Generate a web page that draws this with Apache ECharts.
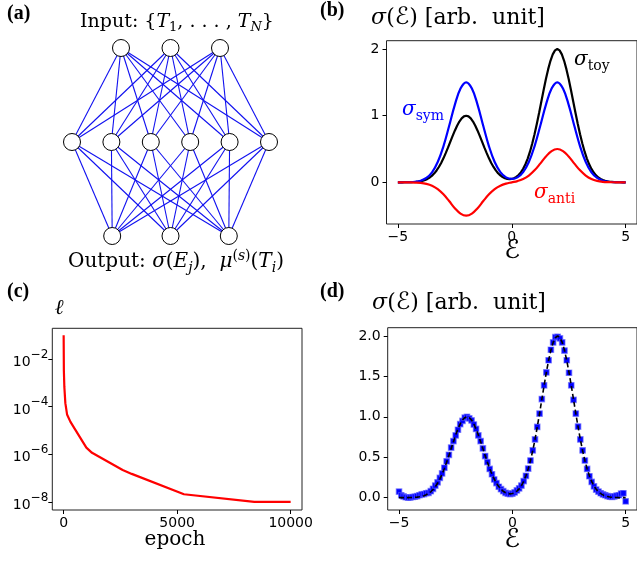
<!DOCTYPE html>
<html><head><meta charset="utf-8">
<script src="https://cdn.jsdelivr.net/npm/echarts@6/dist/echarts.min.js"></script>
<style>html,body{margin:0;padding:0;background:#fff}#c{width:637px;height:561px}</style>
</head><body><div id="c"></div><script>
// ---------------- data ----------------
// (a) network: node slots per layer (input, hidden, output) and layer levels
const inputSlots = [-1, 0, 1];
const hiddenSlots = [-2.5, -1.5, -0.5, 0.5, 1.5, 2.5];
const outputSlots = [-1, 0, 1];
const layerLevels = [0, 1, 2];

// energy grids
const eFineStart = -5, eFineStep = 0.1, eFineCount = 101;
const eCoarseStart = -5, eCoarseStep = 0.25, eCoarseCount = 41;

// (b)/(d) sigma_toy on fine grid
const sigmaToy = [
  0.000,0.000,0.000,0.001,0.001,0.002,0.003,0.005,0.007,0.011,
  0.017,0.025,0.037,0.052,0.073,0.101,0.135,0.178,0.230,0.291,
  0.360,0.438,0.520,0.607,0.693,0.775,0.849,0.912,0.960,0.990,
  1.000,0.990,0.960,0.912,0.849,0.775,0.693,0.607,0.520,0.438,
  0.360,0.291,0.231,0.179,0.137,0.104,0.079,0.061,0.051,0.047,
  0.051,0.061,0.081,0.109,0.150,0.203,0.271,0.357,0.460,0.582,
  0.720,0.876,1.040,1.214,1.386,1.550,1.698,1.824,1.920,1.980,
  2.000,1.980,1.920,1.824,1.698,1.550,1.386,1.214,1.040,0.876,
  0.720,0.582,0.460,0.356,0.270,0.201,0.147,0.105,0.073,0.050,
  0.034,0.022,0.014,0.009,0.006,0.003,0.002,0.001,0.001,0.000,
  0.000];
// (b) symmetric / antisymmetric parts on coarse grid
const sigmaSym = [0.000,0.001,0.003,0.009,0.025,0.066,0.151,0.305,0.540,0.845,1.163,1.407,1.500,1.407,1.163,0.845,0.540,0.305,0.154,0.074,0.051,
  0.074,0.154,0.305,0.540,0.845,1.163,1.407,1.500,1.407,1.163,0.845,0.540,0.305,0.151,0.066,0.025,0.009,0.003,0.001,0.000];
const sigmaAnti = [0.000,0.000,-0.001,-0.003,-0.008,-0.022,-0.050,-0.101,-0.180,-0.281,-0.388,-0.469,-0.500,-0.469,-0.388,-0.281,-0.180,-0.101,-0.050,-0.019,0.000,
  0.019,0.050,0.101,0.180,0.281,0.388,0.469,0.500,0.469,0.388,0.281,0.180,0.101,0.050,0.022,0.008,0.003,0.001,0.000,0.000];

// (c) loss curve
const epochs = [0, 10, 30, 75, 150, 300, 1000, 1250, 2600, 3000, 5300, 8400, 10000];
const loss = [1e-1, 3.2e-3, 6.9e-4, 1.4e-4, 4.7e-5, 2.3e-5, 1.9e-6, 1.15e-6, 2.2e-7, 1.5e-7, 2.1e-8, 1.0e-8, 1.0e-8];

// (d) reconstructed sigma on fine grid
const sigmaRecon = [
  0.075,0.03,0.015,0.005,0.0,0.002,0.008,0.012,0.02,0.03,
  0.04,0.045,0.055,0.06,0.08,0.11,0.15,0.19,0.245,0.30,
  0.37,0.45,0.53,0.62,0.70,0.77,0.84,0.91,0.95,0.99,
  1.0,0.98,0.955,0.905,0.85,0.77,0.70,0.61,0.515,0.44,
  0.355,0.29,0.225,0.18,0.135,0.105,0.08,0.06,0.05,0.045,
  0.05,0.065,0.09,0.115,0.15,0.205,0.27,0.36,0.46,0.585,
  0.72,0.875,1.04,1.22,1.39,1.55,1.70,1.83,1.92,1.985,
  1.99,1.97,1.92,1.82,1.70,1.545,1.39,1.21,1.04,0.88,
  0.72,0.585,0.46,0.355,0.265,0.195,0.14,0.10,0.075,0.055,
  0.04,0.03,0.02,0.012,0.01,0.015,0.025,0.03,0.05,0.055,
  -0.045];

// tick labels
const eTicks = [-5, 0, 5];
const bTicks = [0, 1, 2];
const epochTicks = [0, 5000, 10000];
const lossDecadeTicks = [-8, -6, -4, -2];
const dTicks = [0, 0.5, 1, 1.5, 2];

// ---------------- build ----------------
const eFine = Array.from({length: eFineCount}, (_, i) => +(eFineStart + i * eFineStep).toFixed(2));
const eCoarse = Array.from({length: eCoarseCount}, (_, i) => +(eCoarseStart + i * eCoarseStep).toFixed(2));
const zip = (xs, ys) => xs.map((x, i) => [x, ys[i]]);

const layerSpacing = [49.5, 39.4, 58.3];   // px between nodes in each layer
const layers = [inputSlots, hiddenSlots, outputSlots];
const nodePts = [];
layers.forEach((sl, li) => sl.forEach(s => nodePts.push([s * layerSpacing[li], layerLevels[li]])));
const edges = [];
for (let li = 0; li < 2; li++) {
  layers[li].forEach(a => layers[li + 1].forEach(b => {
    edges.push({coords: [[a * layerSpacing[li], layerLevels[li]], [b * layerSpacing[li + 1], layerLevels[li + 1]]]});
  }));
}

const TICK_FONT = {fontFamily: 'DejaVu Sans', fontSize: 14, color: '#000'};
const minus = v => String(v).replace('-', '\u2212');

function xAx(grid, min, max, ticks, fmt) {
  return {type: 'value', gridIndex: grid, min, max,
    axisLine: {show: false, onZero: false}, splitLine: {show: false},
    axisTick: {show: true, length: 4, lineStyle: {color: '#000'}, customValues: ticks},
    axisLabel: Object.assign({margin: 6, customValues: ticks, formatter: fmt}, TICK_FONT)};
}
function yAx(grid, min, max, ticks, fmt, extra) {
  return {type: 'value', gridIndex: grid, min, max,
    axisLine: {show: false, onZero: false}, splitLine: {show: false},
    axisTick: {show: true, length: 4, lineStyle: {color: '#000'}, customValues: ticks},
    axisLabel: Object.assign({margin: 7, customValues: ticks, formatter: fmt}, TICK_FONT, extra || {})};
}
const gridStyle = {show: true, borderColor: '#222', borderWidth: 1, backgroundColor: 'transparent'};

const SERIF = 'DejaVu Serif';
const richMath = (size) => ({
  r: {fontFamily: SERIF, fontSize: size, lineHeight: size + 6},
  i: {fontFamily: SERIF, fontStyle: 'italic', fontSize: size, lineHeight: size + 6},
  e: {fontFamily: 'DejaVu Sans', fontSize: size + 2, lineHeight: size + 6},
  s: {fontFamily: SERIF, fontSize: Math.round(size * 0.7), verticalAlign: 'bottom'},
  si: {fontFamily: SERIF, fontStyle: 'italic', fontSize: Math.round(size * 0.7), verticalAlign: 'bottom'},
  p: {fontFamily: SERIF, fontSize: Math.round(size * 0.7), verticalAlign: 'top'},
  pi: {fontFamily: SERIF, fontStyle: 'italic', fontSize: Math.round(size * 0.7), verticalAlign: 'top'}
});
function txt(x, y, text, size, color, align) {
  return {type: 'text', x, y, z: 100, style: {text, fill: color || '#000', font: size + 'px ' + SERIF,
    rich: richMath(size), align: align || 'center', verticalAlign: 'middle',
    textAlign: align || 'center', textVerticalAlign: 'middle'}};
}
function label(x, y, t) {
  return {type: 'text', x, y, z: 100, style: {text: t, fill: '#000', font: 'bold 20px Liberation Serif',
    align: 'left', verticalAlign: 'middle', textAlign: 'left', textVerticalAlign: 'middle'}};
}

const option = {
  animation: false,
  backgroundColor: '#fff',
  grid: [
    {left: 0, top: 48, width: 341, height: 188, show: false},
    Object.assign({left: 386.5, top: 40.7, width: 253, height: 183.3}, gridStyle),
    Object.assign({left: 52.3, top: 328.3, width: 249.7, height: 181.7}, gridStyle),
    Object.assign({left: 387.7, top: 327.7, width: 250.5, height: 182.3}, gridStyle)
  ],
  xAxis: [
    {type: 'value', gridIndex: 0, min: -170.5, max: 170.5, show: false},
    xAx(1, -5.5, 5.5, eTicks, minus),
    xAx(2, -500, 10500, epochTicks, v => String(v)),
    xAx(3, -5.5, 5.5, eTicks, minus)
  ],
  yAxis: [
    {type: 'value', gridIndex: 0, min: 0, max: 2, inverse: true, show: false},
    yAx(1, -0.625, 2.125, bTicks, v => String(v)),
    yAx(2, -8.34, -0.71, lossDecadeTicks, v => '{b|10}{s|\u2212' + Math.abs(v) + '}', {
      margin: 4,
      rich: {b: {fontFamily: 'DejaVu Sans', fontSize: 14, padding: [7, 0, 0, 0], verticalAlign: 'bottom'},
             s: {fontFamily: 'DejaVu Sans', fontSize: 12, verticalAlign: 'top'}}}),
    yAx(3, -0.1525, 2.1025, dTicks, v => v.toFixed(1))
  ],
  series: [
    {type: 'lines', coordinateSystem: 'cartesian2d', xAxisIndex: 0, yAxisIndex: 0, clip: false,
      data: edges, lineStyle: {color: '#1010f0', width: 1.1, opacity: 1}, z: 2, silent: true},
    {type: 'scatter', xAxisIndex: 0, yAxisIndex: 0, clip: false, data: nodePts, symbol: 'circle', symbolSize: 17,
      itemStyle: {color: '#fff', borderColor: '#000', borderWidth: 1, opacity: 1}, z: 5, silent: true},

    {type: 'line', xAxisIndex: 1, yAxisIndex: 1, data: zip(eFine, sigmaToy), showSymbol: false,
      lineStyle: {color: '#000', width: 2.2}, z: 3},
    {type: 'line', xAxisIndex: 1, yAxisIndex: 1, data: zip(eCoarse, sigmaSym), showSymbol: false, smooth: 0.4,
      lineStyle: {color: '#0000ff', width: 2.2}, z: 4},
    {type: 'line', xAxisIndex: 1, yAxisIndex: 1, data: zip(eCoarse, sigmaAnti), showSymbol: false, smooth: 0.4,
      lineStyle: {color: '#ff0000', width: 2.2}, z: 5},

    {type: 'line', xAxisIndex: 2, yAxisIndex: 2, data: zip(epochs, loss.map(v => Math.log10(v))), showSymbol: false,
      lineStyle: {color: '#ff0000', width: 2.2}},

    {type: 'scatter', xAxisIndex: 3, yAxisIndex: 3, data: zip(eFine, sigmaRecon), symbol: 'rect', symbolSize: 5.5,
      itemStyle: {color: '#0000ff', borderColor: 'rgba(90,90,255,0.6)', borderWidth: 1.2, opacity: 1}, z: 3},
    {type: 'line', xAxisIndex: 3, yAxisIndex: 3, data: zip(eFine, sigmaToy), showSymbol: false,
      lineStyle: {color: '#000', width: 1.6, type: [5, 3]}, z: 4}
  ],
  graphic: [
    label(7, 14, '(a)'), label(320, 11, '(b)'), label(7, 292, '(c)'), label(320, 292, '(d)'),
    txt(177, 22, '{r|Input: \u007B}{i|T}{s|1}{r|, . . . , }{i|T}{si|N}{r|\u007D}', 19),
    txt(176, 262, '{r|Output: }{i|\u03C3}{r|(}{i|E}{si|j}{r|),  }{i|\u03BC}{p|(}{pi|s}{p|)}{r|(}{i|T}{si|i}{r|)}', 20),
    txt(458, 18, '{i|\u03C3}{r|(}{e|\u2130}{r|) [arb.  unit]}', 22),
    txt(459, 303, '{i|\u03C3}{r|(}{e|\u2130}{r|) [arb.  unit]}', 22),
    txt(512, 251, '{e|\u2130}', 24),
    txt(512, 540, '{e|\u2130}', 24),
    txt(59, 309, '{i|\u2113}', 21),
    txt(175, 540, '{r|epoch}', 20),
    txt(574, 60, '{i|\u03C3}{s|toy}', 20, '#000', 'left'),
    txt(402, 110, '{i|\u03C3}{s|sym}', 20, '#0000ff', 'left'),
    txt(534, 193, '{i|\u03C3}{s|anti}', 20, '#ff0000', 'left')
  ]
};
const chart = echarts.init(document.getElementById('c'), null, {renderer: 'canvas'});
chart.setOption(option);
</script></body></html>
